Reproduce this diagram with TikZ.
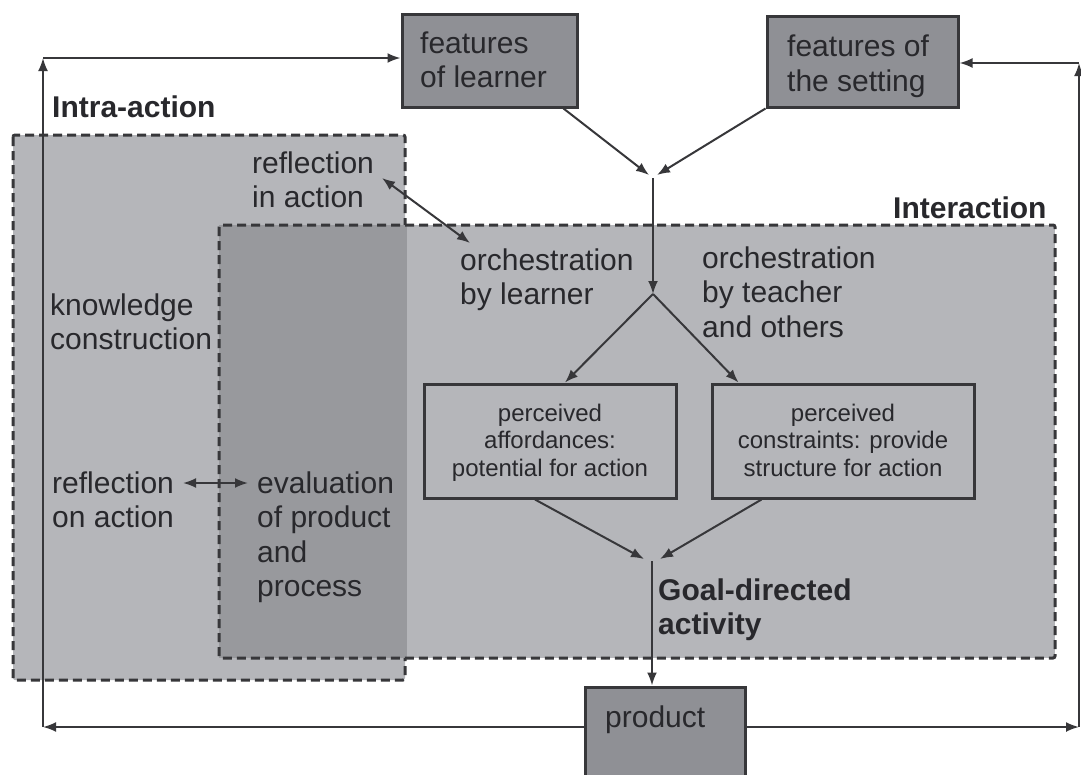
\documentclass[tikz,border=0pt]{standalone}
\usepackage{fontspec}
\setmainfont{Liberation Sans}
\usetikzlibrary{arrows.meta,calc}
\definecolor{bglight}{RGB}{181,182,186}
\definecolor{bgdark}{RGB}{152,153,157}
\definecolor{boxdark}{RGB}{143,144,149}
\definecolor{ink}{RGB}{40,40,44}
\definecolor{edge}{RGB}{55,55,58}
\begin{document}
\begin{tikzpicture}[x=1pt,y=-1pt,
  lbl/.style={anchor=base west, inner sep=0, align=left, font=\fontsize{30}{34.5}\selectfont, text=ink},
  blbl/.style={lbl, font=\fontsize{30}{34.5}\selectfont\bfseries},
  small/.style={anchor=base, inner sep=0, align=center, font=\fontsize{24}{27.5}\selectfont, text=ink},
  darkbox/.style={draw=edge, line width=3pt, fill=boxdark, inner sep=0},
  outbox/.style={draw=edge, line width=3pt, inner sep=0},
  zone/.style={draw=edge, dash pattern=on 9pt off 5pt, line width=3pt, rounded corners=2pt},
  arr/.style={draw=edge, line width=2pt, -{Latex[length=13pt,width=10pt]}},
  darr/.style={draw=edge, line width=2pt, {Latex[length=13pt,width=10pt]}-{Latex[length=13pt,width=10pt]}},
]
\clip (0,0) rectangle (1081,774);
\fill[white] (0,0) rectangle (1081,774);

% zones
\path[zone, fill=bglight] (13,135) rectangle (405,680);
\fill[bglight] (219,225) rectangle (1055,658);
\fill[bgdark] (219,225) rectangle (407,658);
\path[zone] (219,225) rectangle (1055,658);

% boxes
\node[darkbox, minimum width=175pt, minimum height=93pt] (learner) at (489.5,60.5) {};
\node[darkbox, minimum width=191pt, minimum height=91pt] (setting) at (862.5,61.5) {};
\node[darkbox, minimum width=160pt, minimum height=112pt] (product) at (665,743) {};
\node[outbox, minimum width=252pt, minimum height=114pt] (aff) at (550,441) {};
\node[outbox, minimum width=262pt, minimum height=114pt] (con) at (843,441) {};

% texts (anchor = baseline of the last line)
\node[lbl] (tlearner) at (420,87.5) {features\\of learner};
\node[lbl] (tsetting) at (787,91) {features of\\the setting};
\node[lbl] (tproduct) at (605,727) {product};
\node[blbl] (tintra) at (52,117) {Intra-action};
\node[blbl] (tinter) at (893,218) {Interaction};
\node[lbl] (trin) at (252,207.5) {reflection\\in action};
\node[lbl] (torl) at (460,304.5) {orchestration\\by learner};
\node[lbl] (tort) at (702,337) {orchestration\\by teacher\\and others};
\node[lbl] (tknow) at (50,349.5) {knowledge\\construction};
\node[lbl] (tron) at (52,527.5) {reflection\\on action};
\node[lbl] (teval) at (257,596.5) {evaluation\\of product\\and\\process};
\node[blbl] (tgoal) at (658,634.5) {Goal-directed\\activity};
\node[small] (taff) at (550,476) {perceived\\affordances:\\potential for action};
\node[small] (tcon) at (843,476) {perceived\\constraints: provide\\structure for action};

% junctions
\coordinate (j1) at (653,178);
\coordinate (j2) at (653,294);
\coordinate (j3) at (652,561);
\coordinate (bl) at (43,727);
\coordinate (tl) at (43,58);
\coordinate (br) at (1079,727);
\coordinate (tr) at (1079,63);
\coordinate (rinA) at (382,178);
\coordinate (rinB) at (470,243);
\coordinate (ronA) at (183,483);
\coordinate (ronB) at (248,483);

% connectors
\draw[arr] ($(learner.south east)+(-15,0)$) -- ($(j1)+(-4,-3)$);
\draw[arr] (setting.south west) -- ($(j1)+(4,-3)$);
\draw[arr] (j1) -- (j2);
\draw[arr] (j2) -- ($(aff.north)+(15,0)$);
\draw[arr] (j2) -- ($(con.north west)+(28,0)$);
\draw[arr] ($(aff.south)+(-15,0)$) -- ($(j3)+(-8,-2)$);
\draw[arr] ($(con.south west)+(51,0)$) -- ($(j3)+(8,-2)$);
\draw[arr] (j3) -- (j3 |- product.north);
\draw[darr] (rinA) -- (rinB);
\draw[darr] (ronA) -- (ronB);

% feedback loop
\draw[arr] (product.west |- bl) -- (bl);
\draw[arr] (bl) -- (tl);
\draw[arr] (tl) -- (learner.west |- tl);
\draw[arr] (product.east |- br) -- (br);
\draw[arr] (br) -- (tr);
\draw[arr] (tr) -- (setting.east |- tr);
\end{tikzpicture}
\end{document}
